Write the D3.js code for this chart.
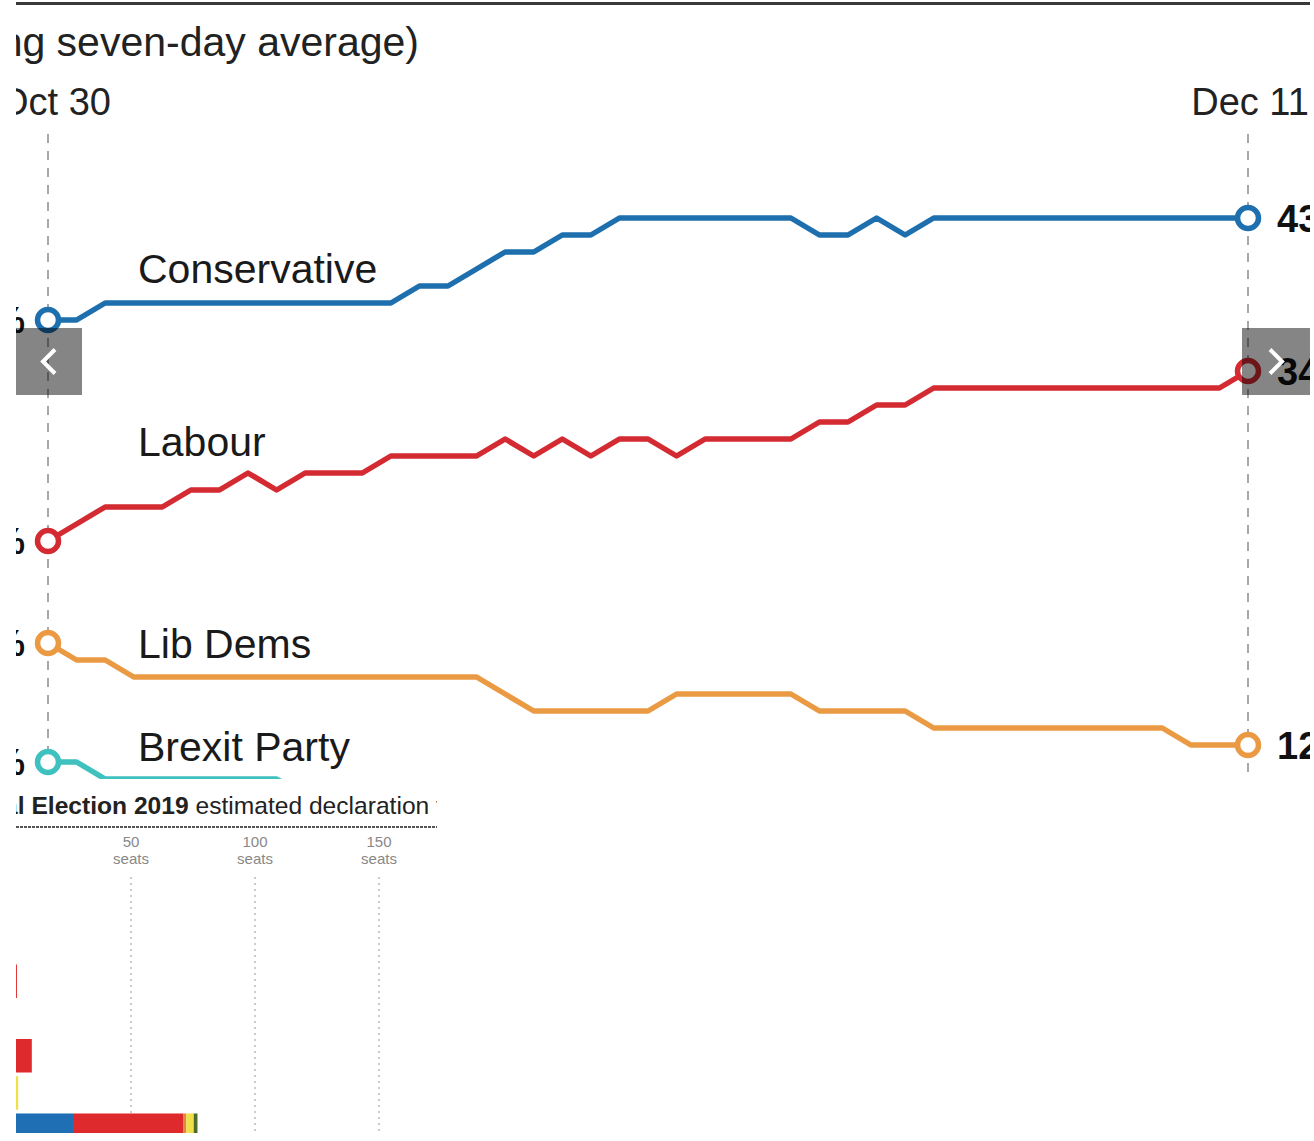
<!DOCTYPE html>
<html>
<head>
<meta charset="utf-8">
<script src="https://cdn.jsdelivr.net/npm/d3@7"></script>
<style>
  html, body { margin: 0; padding: 0; background: #fff; }
  svg { display: block; }
  text { font-family: "Liberation Sans", Arial, Helvetica, sans-serif; }
</style>
</head>
<body>
<svg id="chart" width="1314" height="1141"></svg>
<script>
// ---------------- DATA ----------------
const startDate = new Date(2019, 9, 30);   // Oct 30
const endDate   = new Date(2019, 11, 11);  // Dec 11
const dateTicks = ["Oct 30", "Dec 11"];

const conservative = [37,37,38,38,38,38,38,38,38,38,38,38,38,39,39,40,41,41,42,42,43,43,43,43,43,43,43,42,42,43,42,43,43,43,43,43,43,43,43,43,43,43,43];
const labour       = [24,25,26,26,26,27,27,28,27,28,28,28,29,29,29,29,30,29,30,29,30,30,29,30,30,30,30,31,31,32,32,33,33,33,33,33,33,33,33,33,33,33,34];
const libDems      = [18,17,17,16,16,16,16,16,16,16,16,16,16,16,16,16,15,14,14,14,14,14,15,15,15,15,15,14,14,14,14,13,13,13,13,13,13,13,13,13,12,12,12];
const brexit       = [11,11,10,10,10,10,10,10,10,9,9,8,8,7,7,6,6,6,5,5,5,5,5,4,4,4,4,4,4,4,4,4,4,4,4,4,4,4,4,4,3,3,3];

const partyNames  = ["Conservative", "Labour", "Lib Dems", "Brexit Party"];
const partyColors = ["#1d6fae", "#d42a31", "#eb9a44", "#3ec1bf"];
const titleText   = "Voting intention (rolling seven-day average)";

// bottom panel: estimated declaration chart
const declTitleBold = "General Election 2019";
const declTitleRest = " estimated declaration times";
const seatTicks = [50, 100, 150];
const declRows  = ["22:00", "23:00", "00:00", "00:30", "01:00", "01:30", "02:00"];
const declColors  = ["#1f6fb4", "#de2a2c", "#e0893b", "#efe048", "#4d6b2c"];
const declCon   = [0, 0, 0, 0, 0, 0, 27];
const declLab   = [0, 0, 4, 0, 10, 0, 44];
const declLD    = [0, 0, 0, 0, 0, 0, 1.3];
const declSNP   = [0, 0, 0, 0, 0, 4.5, 3];
const declOther = [0, 0, 0, 0, 0, 0, 1.5];

// ---------------- DRAW ----------------
const svg = d3.select("#chart");
const defs = svg.append("defs");
defs.append("clipPath").attr("id", "clipMain")
  .append("rect").attr("x", 16).attr("y", 0).attr("width", 1294).attr("height", 779);
defs.append("clipPath").attr("id", "clipBottom")
  .append("rect").attr("x", 16).attr("y", 779).attr("width", 421).attr("height", 354);

const main = svg.append("g").attr("clip-path", "url(#clipMain)");

const nDays = conservative.length;
const dates = d3.range(nDays).map(i => d3.timeDay.offset(startDate, i));
const x = d3.scaleTime().domain([startDate, endDate]).range([48, 1248]);
const y = d3.scaleLinear().domain([12, 43]).range([745, 218]);

// top rule
main.append("line").attr("x1", 0).attr("x2", 1314).attr("y1", 3.5).attr("y2", 3.5)
  .attr("stroke", "#3a3a3a").attr("stroke-width", 3);

// title
main.append("text").attr("x", 419).attr("y", 56).attr("text-anchor", "end")
  .attr("font-size", 41).attr("fill", "#222").text(titleText);

// date labels and dashed guides
const ends = [startDate, endDate];
main.selectAll(".dlab").data(ends).join("text")
  .attr("x", (d, i) => x(d) + (i === 0 ? 7 : 2))
  .attr("y", 115).attr("text-anchor", "middle")
  .attr("font-size", 38).attr("fill", "#222")
  .text((d, i) => dateTicks[i]);

main.selectAll(".guide").data(ends).join("line")
  .attr("x1", d => x(d)).attr("x2", d => x(d))
  .attr("y1", 134).attr("y2", 780)
  .attr("stroke", "#a8a8a8").attr("stroke-width", 2)
  .attr("stroke-dasharray", "9,8");

const series = [conservative, labour, libDems, brexit];
const line = d3.line().x((d, i) => x(dates[i])).y(d => y(d));

main.selectAll(".pline").data(series).join("path")
  .attr("d", d => line(d))
  .attr("fill", "none")
  .attr("stroke", (d, i) => partyColors[i])
  .attr("stroke-width", 5.5)
  .attr("stroke-linejoin", "round");

// party labels
const labelVals = [39.2, 29.0, 17.1, 11.05];
main.selectAll(".plab").data(partyNames).join("text")
  .attr("x", 138).attr("y", (d, i) => y(labelVals[i]))
  .attr("font-size", 41).attr("fill", "#1a1a1a").text(d => d);

// start and end circles
series.forEach((s, i) => {
  [0, s.length - 1].forEach(j => {
    main.append("circle").attr("cx", x(dates[j])).attr("cy", y(s[j])).attr("r", 10.5)
      .attr("fill", "#fff").attr("stroke", partyColors[i]).attr("stroke-width", 5.5);
  });
});

// value labels, start (clipped by the frame) and end
series.forEach((s, i) => {
  main.append("text").attr("x", 25).attr("y", y(s[0])).attr("dy", "0.36em")
    .attr("text-anchor", "end").attr("font-size", 36).attr("font-weight", "bold")
    .attr("fill", "#111").text(s[0] + "%");
  if (i < 3) {
    main.append("text").attr("x", 1277).attr("y", y(s[s.length - 1])).attr("dy", "0.36em")
      .attr("font-size", 38).attr("font-weight", "bold")
      .attr("fill", "#111").text(s[s.length - 1] + "%");
  }
});

// carousel nav buttons
const navs = [{x: 16, w: 66, dir: -1}, {x: 1242, w: 68, dir: 1}];
navs.forEach(n => {
  main.append("rect").attr("x", n.x).attr("y", 328).attr("width", n.w).attr("height", 67)
    .attr("fill", "rgba(0,0,0,0.48)");
  const cx = n.x + n.w / 2 + (n.dir > 0 ? 0 : 0), cy = 361.5;
  const pts = [[cx - n.dir * 6, cy - 12], [cx + n.dir * 6, cy], [cx - n.dir * 6, cy + 12]];
  main.append("path").attr("d", d3.line()(pts))
    .attr("fill", "none").attr("stroke", "#fff").attr("stroke-width", 4);
});

// ---------------- bottom panel ----------------
const bot = svg.append("g").attr("clip-path", "url(#clipBottom)");
const bt = bot.append("text").attr("x", -67).attr("y", 814).attr("font-size", 24.6).attr("fill", "#222");
bt.append("tspan").attr("font-weight", "bold").text(declTitleBold);
bt.append("tspan").text(declTitleRest);

bot.append("line").attr("x1", 0).attr("x2", 440).attr("y1", 827).attr("y2", 827)
  .attr("stroke", "#555").attr("stroke-width", 2).attr("stroke-dasharray", "3,1");

const sx = d3.scaleLinear().domain([0, 150]).range([7, 379]);
const ry = d3.scaleBand().domain(declRows).range([890, 1147]).paddingInner(0.1);

seatTicks.forEach(t => {
  bot.append("text").attr("x", sx(t)).attr("y", 847).attr("text-anchor", "middle")
    .attr("font-size", 15).attr("fill", "#888").text(t);
  bot.append("text").attr("x", sx(t)).attr("y", 864).attr("text-anchor", "middle")
    .attr("font-size", 15).attr("fill", "#888").text("seats");
  bot.append("line").attr("x1", sx(t)).attr("x2", sx(t)).attr("y1", 877).attr("y2", 1141)
    .attr("stroke", "#bbb").attr("stroke-width", 1.5).attr("stroke-dasharray", "2,4");
});

const declSeries = [declCon, declLab, declLD, declSNP, declOther];
const rowsData = declRows.map((r, i) => {
  let acc = 0;
  return declSeries.map((s, k) => { const seg = {row: r, x0: acc, x1: acc + s[i], k}; acc += s[i]; return seg; });
});
rowsData.forEach((segs, i) => {
  const h = i === declRows.length - 1 ? 20 : ry.bandwidth();
  bot.selectAll(null).data(segs.filter(s => s.x1 > s.x0)).join("rect")
    .attr("x", s => sx(s.x0)).attr("width", s => sx(s.x1) - sx(s.x0))
    .attr("y", ry(declRows[i])).attr("height", h)
    .attr("fill", s => declColors[s.k]);
});
</script>
</body>
</html>
